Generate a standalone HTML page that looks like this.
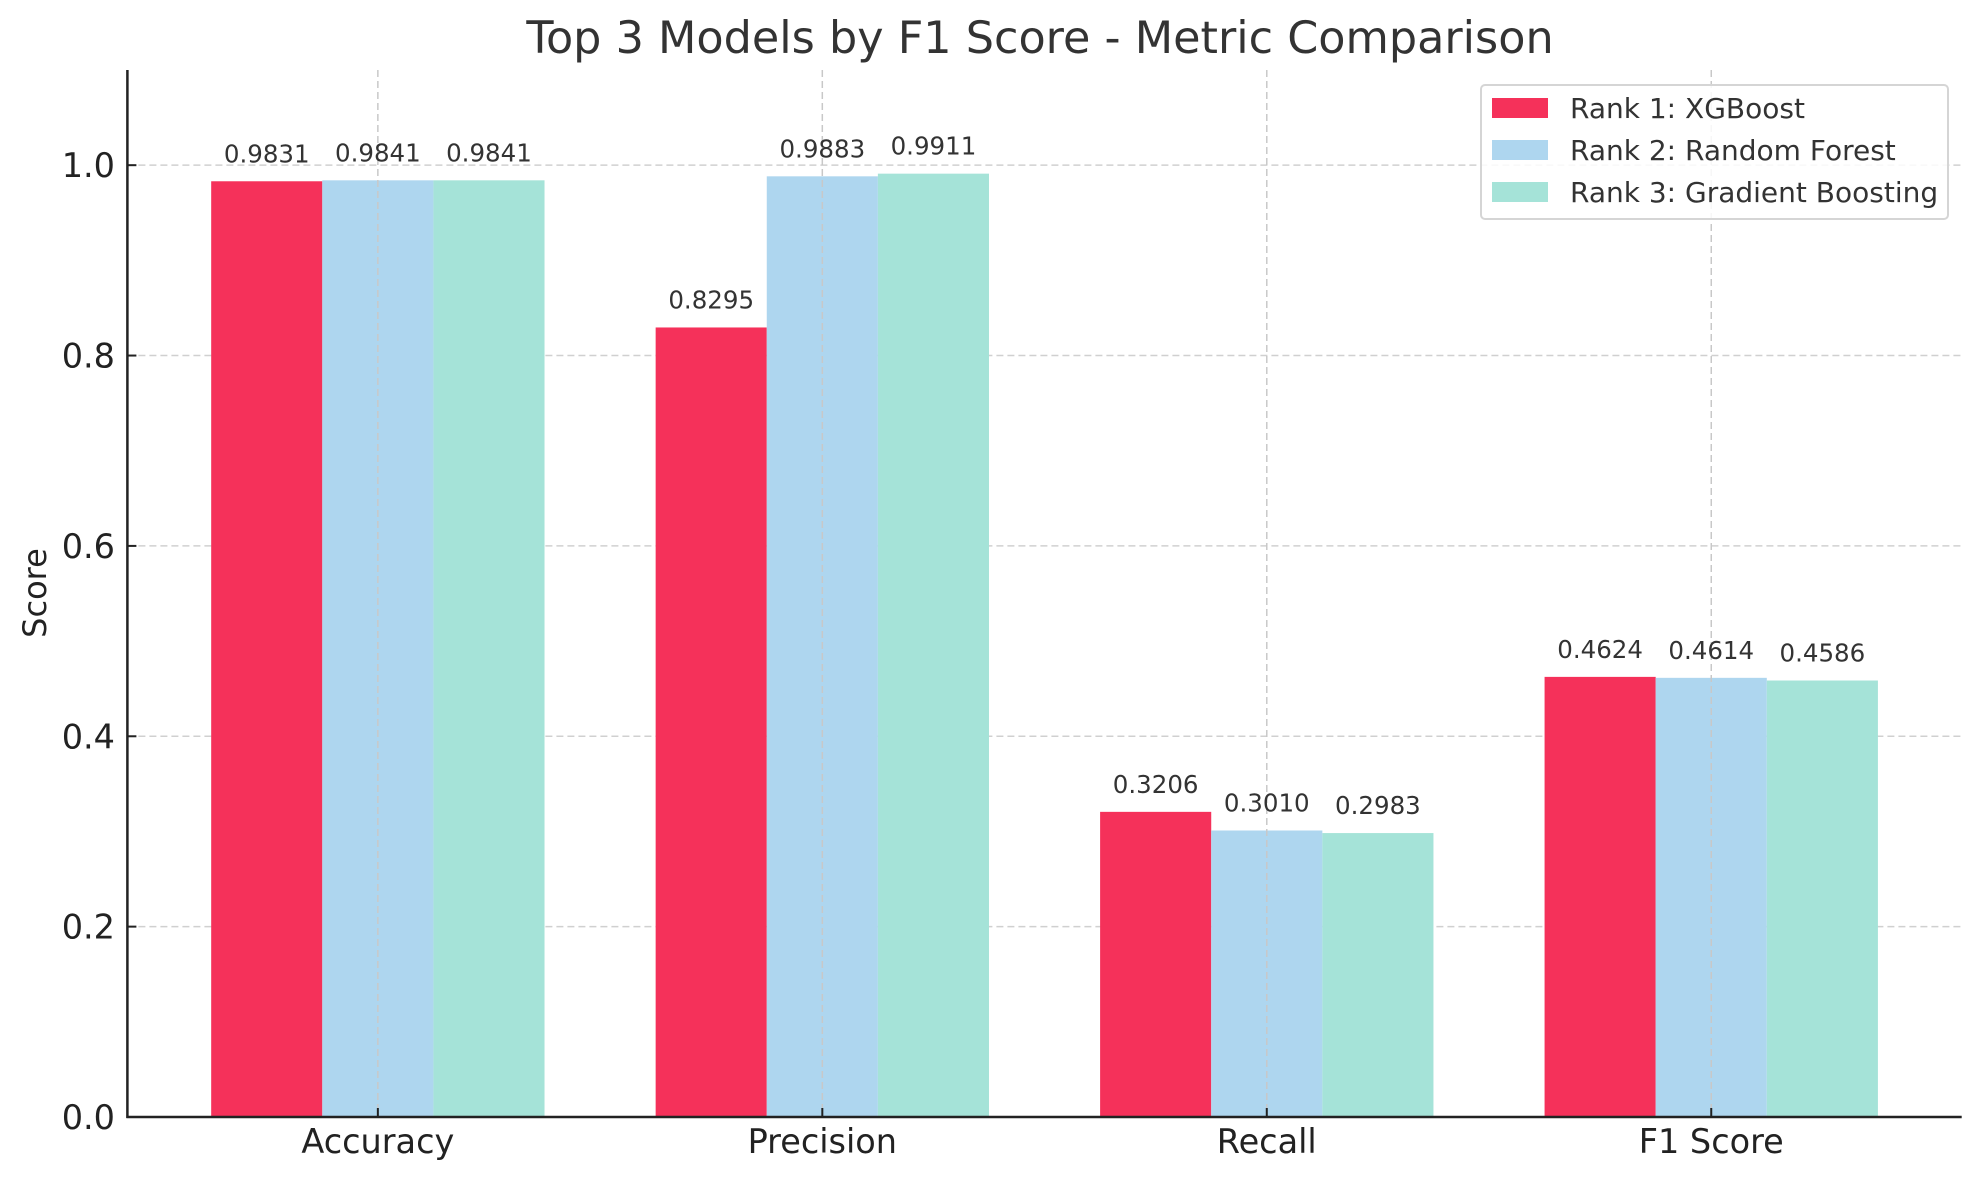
<!DOCTYPE html>
<html><head><meta charset="utf-8"><style>
html,body{margin:0;padding:0;background:#fff;}
svg{display:block;font-family:"DejaVu Sans","Liberation Sans",sans-serif;}
</style></head><body>
<svg id="chart" width="1979" height="1180" viewBox="0 0 1979 1180" xmlns="http://www.w3.org/2000/svg">
<text x="1040" y="53" font-size="44.5" text-anchor="middle" fill="#333">Top 3 Models by F1 Score - Metric Comparison</text>
<text transform="translate(46,593) rotate(-90)" font-size="32" text-anchor="middle" fill="#222">Score</text>
<g id="grid"></g>
<g id="bars"></g>
<g id="gridtop"></g>
<g id="axes"></g>
<g id="labels"></g>
<g>
<rect x="1481" y="85" width="467" height="134" rx="4" fill="#fff" fill-opacity="0.85" stroke="#d5d5d5" stroke-width="2"/>
<rect x="1492" y="98" width="56" height="20" fill="#F5315A"/>
<text x="1570" y="118" font-size="28" fill="#333">Rank 1: XGBoost</text>
<rect x="1492" y="140" width="56" height="20" fill="#AED6EF"/>
<text x="1570" y="160" font-size="28" fill="#333">Rank 2: Random Forest</text>
<rect x="1492" y="182" width="56" height="20" fill="#A5E3D8"/>
<text x="1570" y="202" font-size="28" fill="#333">Rank 3: Gradient Boosting</text>
</g>
</svg>
<script>
const categories = ["Accuracy", "Precision", "Recall", "F1 Score"];
const seriesNames = ["Rank 1: XGBoost", "Rank 2: Random Forest", "Rank 3: Gradient Boosting"];
const xgboostValues = [0.9831, 0.8295, 0.3206, 0.4624];
const randomForestValues = [0.9841, 0.9883, 0.3010, 0.4614];
const gradientBoostingValues = [0.9841, 0.9911, 0.2983, 0.4586];
const yTicks = [0.0, 0.2, 0.4, 0.6, 0.8, 1.0];

const NS = "http://www.w3.org/2000/svg";
const colors = ["#F5315A", "#AED6EF", "#A5E3D8"];
const series = [xgboostValues, randomForestValues, gradientBoostingValues];
const L = 127.4, R = 1961.7, T = 70, B = 1117;
const xMin = -0.5635, xMax = 3.5635, yMin = 0, yMax = 1.1;
const barW = 0.25;
function xs(v){ return L + (v - xMin) / (xMax - xMin) * (R - L); }
function ys(v){ return B - (v - yMin) / (yMax - yMin) * (B - T); }
function mk(tag, attrs, parent){
  const e = document.createElementNS(NS, tag);
  for (const k in attrs) e.setAttribute(k, attrs[k]);
  parent.appendChild(e);
  return e;
}
const grid = document.getElementById("grid");
const gridtop = document.getElementById("gridtop");
const bars = document.getElementById("bars");
const axes = document.getElementById("axes");
const labels = document.getElementById("labels");

yTicks.forEach(t => {
  if (t === 0) return;
  const g = mk("line", {x1: L, x2: R, y1: ys(t), y2: ys(t), stroke: "#d0d0d0", "stroke-width": 1.5, "stroke-dasharray": "7,4"}, grid);
  
  
});

series.forEach((vals, si) => {
  vals.forEach((v, ci) => {
    const cx = ci + (si - 1) * barW;
    const x0 = xs(cx - barW / 2), x1 = xs(cx + barW / 2);
    const r = mk("rect", {x: x0, y: ys(v), width: x1 - x0, height: ys(0) - ys(v), fill: colors[si]}, bars);
    
    
    const t = mk("text", {x: xs(cx), y: ys(v) - 19, "font-size": 24.5, "text-anchor": "middle", fill: "#333"}, labels);
    t.textContent = v.toFixed(4);
    
    
  });
});

categories.forEach((c, ci) => {
  const g = mk("line", {x1: xs(ci), x2: xs(ci), y1: T, y2: B, stroke: "#c8c8c8", "stroke-width": 1.5, "stroke-dasharray": "7,4"}, gridtop);
  
  
  const tk = mk("line", {x1: xs(ci), x2: xs(ci), y1: B, y2: B - 9, stroke: "#222", "stroke-width": 2}, axes);
  
  
  const t = mk("text", {x: xs(ci), y: 1153, "font-size": 33.5, "text-anchor": "middle", fill: "#222"}, axes);
  t.textContent = c;
  
  
});

yTicks.forEach(v => {
  const tk = mk("line", {x1: L, x2: L + 9, y1: ys(v), y2: ys(v), stroke: "#222", "stroke-width": 2}, axes);
  
  
  const t = mk("text", {x: 115, y: ys(v) + 12, "font-size": 33.5, "text-anchor": "end", fill: "#222"}, axes);
  t.textContent = v.toFixed(1);
  
  
});

const ls = mk("line", {x1: L, x2: L, y1: T, y2: B + 1, stroke: "#222", "stroke-width": 2.5}, axes);


const bs = mk("line", {x1: L - 1, x2: R, y1: B, y2: B, stroke: "#222", "stroke-width": 2.5}, axes);


</script>
</body></html>
